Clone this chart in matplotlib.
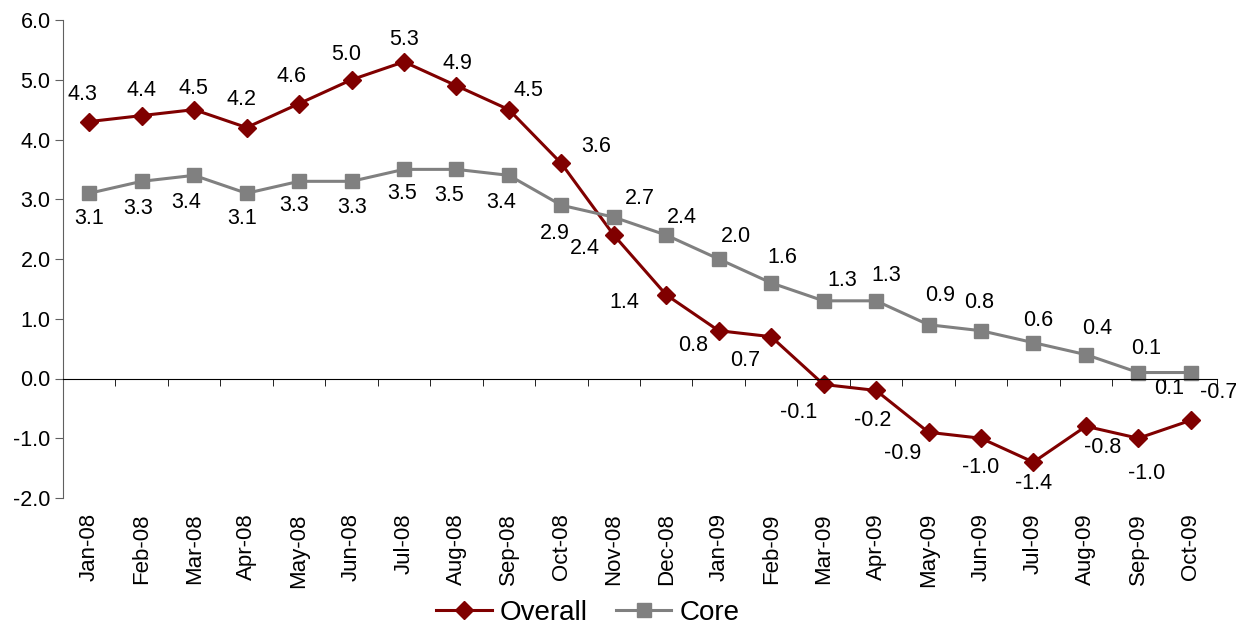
import numpy as np
import matplotlib
matplotlib.use('Agg')
from matplotlib import pyplot as plt

plt.rcParams['font.family'] = ['Liberation Sans', 'DejaVu Sans']

months = ['Jan-08', 'Feb-08', 'Mar-08', 'Apr-08', 'May-08', 'Jun-08', 'Jul-08',
          'Aug-08', 'Sep-08', 'Oct-08', 'Nov-08', 'Dec-08', 'Jan-09', 'Feb-09',
          'Mar-09', 'Apr-09', 'May-09', 'Jun-09', 'Jul-09', 'Aug-09', 'Sep-09',
          'Oct-09']
overall = [4.3, 4.4, 4.5, 4.2, 4.6, 5.0, 5.3, 4.9, 4.5, 3.6, 2.4, 1.4, 0.8, 0.7,
           -0.1, -0.2, -0.9, -1.0, -1.4, -0.8, -1.0, -0.7]
core = [3.1, 3.3, 3.4, 3.1, 3.3, 3.3, 3.5, 3.5, 3.4, 2.9, 2.7, 2.4, 2.0, 1.6,
        1.3, 1.3, 0.9, 0.8, 0.6, 0.4, 0.1, 0.1]

# label offsets in pixels (dx right, dy down) - placed by hand like the original
overall_off = [(-7, -27), (0, -25), (-1, -21), (-5, -28), (-8, -27), (-5, -25),
               (0, -22), (1, -22), (20, -19), (35, -17), (-29, 13), (-42, 8),
               (-26, 15), (-26, 24), (-25, 28), (-3, 30), (-26, 21), (0, 29),
               (0, 21), (17, 21), (8, 35), (28, -28)]
core_off = [(0, 25), (-4, 27), (-8, 27), (-4, 25), (-5, 24), (1, 26), (-2, 24),
            (-7, 26), (-8, 27), (-7, 28), (26, -19), (16, -18), (17, -23),
            (11, -25), (19, -20), (10, -25), (12, -29), (-2, -28), (5, -22),
            (11, -26), (8, -24), (-22, 16)]

red = '#800000'
grey = '#808080'

fig = plt.figure(figsize=(12.36, 6.27), dpi=100)
ax = fig.add_axes([63/1236, 1-498/627, (1217-63)/1236, 478/627])

x = np.arange(len(months))
ax.plot(x, overall, color=red, lw=2.2, marker='D', ms=9, label='Overall')
ax.plot(x, core, color=grey, lw=2.2, marker='s', ms=10, label='Core')

for xs, ys, offs in [(x, overall, overall_off), (x, core, core_off)]:
    for xi, yi, (dx, dy) in zip(xs, ys, offs):
        ax.annotate('%.1f' % yi, (xi, yi), xytext=(dx, -dy),
                    textcoords='offset pixels', ha='center', va='center',
                    fontsize=15.5, color='black')

ax.set_xlim(-0.5, len(months) - 0.5)
ax.set_ylim(-2, 6)
ax.set_yticks(np.arange(-2, 6.1, 1))
ax.set_yticklabels(['%.1f' % v for v in np.arange(-2, 6.1, 1)], fontsize=15.5)

ax.spines['top'].set_visible(False)
ax.spines['right'].set_visible(False)
ax.spines['left'].set_color('#606060')
ax.spines['bottom'].set_position(('data', 0))
ax.spines['bottom'].set_color('black')

ax.set_xticks(x)
ax.set_xticklabels(months, rotation=90, fontsize=16, va='top')
ax.set_xticks(np.arange(-0.5, len(months)), minor=True)
ax.tick_params(axis='x', which='major', length=0, pad=97)
ax.tick_params(axis='x', which='minor', length=5, direction='out', color='black')
ax.tick_params(axis='y', length=6, color='#606060', pad=3)

fig.legend(loc='center', bbox_to_anchor=(588/1236, 1-613/627), ncol=2,
           frameon=False, fontsize=20, handlelength=2.0, columnspacing=1.0,
           handletextpad=0.3)

fig.savefig('out.png', dpi=100)
